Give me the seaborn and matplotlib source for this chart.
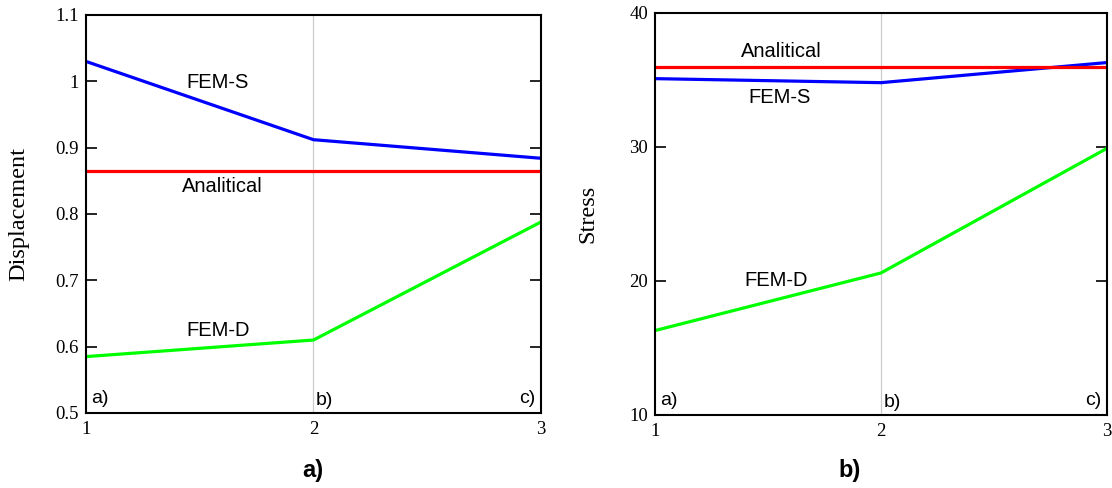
import pandas as pd
import seaborn as sns
import matplotlib.pyplot as plt

# ==========================================
# dados
# ==========================================
casos = [1, 2, 3]
rotulos_casos = ['a)', 'b)', 'c)']

desl_fem_s = [1.030, 0.912, 0.884]
desl_fem_d = [0.585, 0.610, 0.788]
desl_analitico = [0.865, 0.865, 0.865]

tens_fem_s = [35.1, 34.8, 36.3]
tens_fem_d = [16.3, 20.6, 29.9]
tens_analitico = [36.0, 36.0, 36.0]

cores = {'FEM-S': '#0000FF', 'Analitical': '#FF0000', 'FEM-D': '#00FF00'}


def monta_df(fem_s, analitico, fem_d):
    partes = []
    for nome, vals in [('FEM-S', fem_s), ('Analitical', analitico), ('FEM-D', fem_d)]:
        partes.append(pd.DataFrame({'caso': casos, 'valor': vals, 'serie': nome}))
    return pd.concat(partes, ignore_index=True)


df_desl = monta_df(desl_fem_s, desl_analitico, desl_fem_d)
df_tens = monta_df(tens_fem_s, tens_analitico, tens_fem_d)

sns.set_theme(style='white')
plt.rcParams['text.color'] = 'black'
plt.rcParams['axes.labelcolor'] = 'black'
serif = ['Liberation Serif', 'DejaVu Serif']
sans = ['Liberation Sans', 'DejaVu Sans']

fig = plt.figure(figsize=(11.12, 4.88), dpi=100)
ax1 = fig.add_axes([0.0773, 0.1537, 0.4092, 0.8156])
ax2 = fig.add_axes([0.589, 0.1496, 0.4065, 0.8238])


def desenha(ax, df, ylim, yticks, ylabel, textos):
    ax.axvline(2, color='#cccccc', lw=0.9, zorder=0)
    sns.lineplot(data=df, x='caso', y='valor', hue='serie', palette=cores,
                 linewidth=2.3, legend=False, ax=ax)
    ax.set_xlim(1, 3)
    ax.set_ylim(*ylim)
    ax.set_xticks(casos)
    ax.set_yticks(yticks)
    ax.set_xticklabels([str(c) for c in casos], family=serif, fontsize=13.5, color='black')
    ax.set_yticklabels([f'{t:g}' for t in yticks], family=serif, fontsize=13.5, color='black')
    ax.tick_params(axis='y', direction='in', length=8, width=1.2, left=True, right=True, pad=5, colors='black')
    ax.tick_params(axis='x', length=0, pad=6, colors='black')
    for sp in ax.spines.values():
        sp.set_color('black')
        sp.set_linewidth(1.5)
    ax.set_xlabel('')
    ax.set_ylabel(ylabel, family=serif, fontsize=17.5, color='black')
    ax.yaxis.set_label_coords(-0.125, 0.5)
    for txt, x, y in textos:
        ax.text(x, y, txt, family=sans, fontsize=14.5, ha='center', va='center', color='black')
    # rótulos dos casos dentro do gráfico
    ax.text(0.012, 0.015, rotulos_casos[0], transform=ax.transAxes, family=sans, fontsize=14,
            ha='left', va='bottom', color='black')
    ax.text(0.505, 0.01, rotulos_casos[1], transform=ax.transAxes, family=sans, fontsize=14,
            ha='left', va='bottom', color='black')
    ax.text(0.988, 0.015, rotulos_casos[2], transform=ax.transAxes, family=sans, fontsize=14,
            ha='right', va='bottom', color='black')


desenha(ax1, df_desl, (0.5, 1.1), [0.5, 0.6, 0.7, 0.8, 0.9, 1.0, 1.1], 'Displacement',
        [('FEM-S', 1.58, 0.998), ('Analitical', 1.60, 0.841), ('FEM-D', 1.58, 0.625)])
desenha(ax2, df_tens, (10, 40), [10, 20, 30, 40], 'Stress',
        [('Analitical', 1.557, 37.1), ('FEM-S', 1.55, 33.66), ('FEM-D', 1.535, 20.07)])

fig.text(313 / 1112, 1 - 470 / 488, 'a)', family=sans, fontsize=17, fontweight='bold',
         ha='center', va='center', color='black')
fig.text(850 / 1112, 1 - 470 / 488, 'b)', family=sans, fontsize=17, fontweight='bold',
         ha='center', va='center', color='black')

plt.savefig('out.png', dpi=100)
